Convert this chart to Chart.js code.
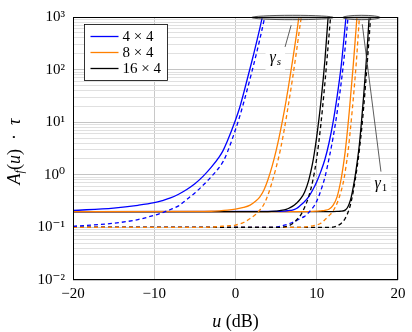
<!DOCTYPE html>
<html><head><meta charset="utf-8">
<script src="https://cdn.jsdelivr.net/npm/chart.js@4"></script>
<style>html,body{margin:0;padding:0;background:#fff}</style>
</head><body>
<canvas id="c" width="412" height="332"></canvas>
<script>
// ---------- data ----------
const seriesNames = ['4 × 4', '8 × 4', '16 × 4'];
const xTicks = [-20, -10, 0, 10, 20];
const yTickExps = [-2, -1, 0, 1, 2, 3];

// γs group (left)
const u44sSolid = [-20, -15, -12, -10, -9, -8, -7, -6, -5, -4, -3, -2, -1.5, -1, 0, 0.5, 1, 2, 3, 3.3];
const a44sSolid = [0.21, 0.233, 0.263, 0.295, 0.324, 0.363, 0.427, 0.525, 0.676, 0.933, 1.38, 2.19, 2.95, 4.37, 11.0, 18.6, 35.5, 141, 617, 1000];
const u44sDash = [-20, -15, -12, -10, -9, -8, -7, -6, -5, -4, -3, -2, -1.5, -1, 0, 0.5, 1, 2, 3, 3.6];
const a44sDash = [0.105, 0.12, 0.141, 0.17, 0.191, 0.219, 0.257, 0.339, 0.452, 0.631, 0.912, 1.38, 1.82, 2.69, 7.24, 12.6, 23.4, 89.1, 380, 1000];
const u84sSolid = [-20, -5, -3, -2, -1, 0, 1, 1.8, 2.5, 3, 3.5, 4, 4.5, 5, 5.5, 6, 6.5, 7, 7.5, 7.8];
const a84sSolid = [0.2, 0.201, 0.203, 0.207, 0.213, 0.223, 0.24, 0.266, 0.316, 0.38, 0.513, 0.813, 1.445, 2.88, 6.46, 16.2, 45.7, 140, 457, 1000];
const u84sDash = [-20, -5, -3, -2, -1, 0, 1, 1.8, 2.5, 3, 3.5, 4, 4.5, 5, 5.5, 6, 6.5, 7, 7.5, 8, 8.1];
const a84sDash = [0.1, 0.1, 0.101, 0.104, 0.107, 0.111, 0.124, 0.148, 0.178, 0.214, 0.275, 0.417, 0.724, 1.38, 2.88, 7.24, 20.9, 64.6, 219, 794, 1000];
const u164sSolid = [-20, 4, 5, 6, 6.5, 7, 7.5, 8, 8.5, 9, 9.5, 9.7, 10, 10.5, 11, 11.4];
const a164sSolid = [0.2, 0.2, 0.204, 0.215, 0.229, 0.251, 0.288, 0.347, 0.468, 0.776, 1.7, 2.57, 5.37, 23.4, 148, 1000];
const u164sDash = [-20, 5, 6, 6.5, 7, 7.5, 8, 8.5, 9, 9.5, 10, 10.5, 11, 11.4, 11.7];
const a164sDash = [0.1, 0.1, 0.102, 0.107, 0.117, 0.138, 0.17, 0.24, 0.38, 0.759, 2.09, 8.91, 55.0, 282, 1000];

// γ1 group (right)
const u441Solid = [-20, 5, 6, 6.5, 7, 7.5, 8, 8.5, 9, 9.5, 10, 10.5, 11, 11.5, 12, 12.5, 13, 13.6];
const a441Solid = [0.2, 0.201, 0.204, 0.209, 0.214, 0.229, 0.263, 0.309, 0.38, 0.513, 0.741, 1.15, 1.95, 3.98, 9.77, 30.2, 115, 1000];
const u441Dash = [-20, 4, 5, 6, 7, 8, 8.5, 9, 9.5, 10, 10.5, 11, 11.5, 12, 12.5, 13, 13.5, 13.85];
const a441Dash = [0.1, 0.1, 0.101, 0.11, 0.124, 0.148, 0.162, 0.191, 0.234, 0.316, 0.501, 0.891, 2.0, 5.01, 15.1, 55.0, 263, 1000];
const u841Solid = [-20, 9, 10, 10.5, 11, 11.5, 12, 12.5, 13, 13.25, 13.5, 14, 14.5, 14.85, 14.95];
const a841Solid = [0.2, 0.2, 0.203, 0.207, 0.211, 0.221, 0.263, 0.38, 0.832, 1.45, 2.75, 15.8, 126, 631, 1000];
const u841Dash = [-20, 8, 9, 10, 10.5, 11, 11.5, 12, 12.5, 13, 13.35, 13.6, 13.85, 14.35, 14.85, 15.25];
const a841Dash = [0.1, 0.1, 0.104, 0.112, 0.12, 0.14, 0.166, 0.204, 0.288, 0.49, 0.832, 1.45, 2.75, 15.8, 126, 1000];
const u1641Solid = [-20, 12, 12.5, 13, 13.5, 13.75, 14, 14.25, 14.5, 14.75, 15, 15.25, 15.5, 15.75, 16, 16.25, 16.45];
const a1641Solid = [0.2, 0.2, 0.201, 0.203, 0.213, 0.234, 0.282, 0.38, 0.589, 1.0, 1.86, 3.8, 10.0, 28.8, 91.2, 316, 1000];
const u1641Dash = [-20, 11, 12, 12.5, 13, 13.5, 14, 14.25, 14.5, 14.75, 15, 15.25, 15.5, 15.75, 16, 16.25, 16.5, 16.65];
const a1641Dash = [0.1, 0.1, 0.101, 0.107, 0.119, 0.148, 0.224, 0.316, 0.49, 0.832, 1.51, 3.02, 6.76, 17.4, 50.1, 158, 525, 1096];

// annotations (data coordinates)
const ellipseSpans = [[2.0, 12.05], [13.2, 17.8]];
const gammaS = {label: 'γ', sub: 's', u: 4.9, a: 160, from: [6.85, 700], to: [6.1, 270]};
const gamma1 = {label: 'γ', sub: '1', u: 17.9, a: 0.65, from: [15.6, 730], to: [17.9, 1.15]};

// ---------- styles ----------
const COLORS = ['#0000ff', '#ff8000', '#000000'];
const SERIF = "'Liberation Serif', 'DejaVu Serif', serif";
const SUP = {'-': '⁻', '0': '⁰', '1': '¹', '2': '²', '3': '³'};

const curves = [
  [u44sSolid, a44sSolid, 0, false], [u44sDash, a44sDash, 0, true],
  [u84sSolid, a84sSolid, 1, false], [u84sDash, a84sDash, 1, true],
  [u164sSolid, a164sSolid, 2, false], [u164sDash, a164sDash, 2, true],
  [u441Solid, a441Solid, 0, false], [u441Dash, a441Dash, 0, true],
  [u841Solid, a841Solid, 1, false], [u841Dash, a841Dash, 1, true],
  [u1641Solid, a1641Solid, 2, false], [u1641Dash, a1641Dash, 2, true],
];

const datasets = curves.map(([u, a, ci, dash]) => ({
  data: u.map((x, i) => ({x, y: a[i]})),
  borderColor: COLORS[ci], borderWidth: 1.3,
  borderDash: dash ? [4, 3] : [],
  pointRadius: 0, fill: false, cubicInterpolationMode: 'monotone'
}));

const isDecade = v => Math.abs(Math.log10(v) - Math.round(Math.log10(v))) < 1e-6;

const deco = {
  id: 'deco',
  afterDatasetsDraw(chart) {
    const {ctx, scales: {x, y}, chartArea: ca} = chart;
    ctx.save();
    for (const [u0, u1] of ellipseSpans) {
      const x0 = x.getPixelForValue(u0), x1 = x.getPixelForValue(u1), yc = y.getPixelForValue(1000) + 0.5;
      ctx.beginPath();
      ctx.ellipse((x0 + x1) / 2, yc, (x1 - x0) / 2, 2.2, 0, 0, Math.PI * 2);
      ctx.fillStyle = 'rgba(150,150,150,0.55)'; ctx.fill();
      ctx.strokeStyle = '#333'; ctx.lineWidth = 0.8; ctx.stroke();
    }
    for (const g of [gammaS, gamma1]) {
      ctx.beginPath();
      ctx.moveTo(x.getPixelForValue(g.from[0]), y.getPixelForValue(g.from[1]));
      ctx.lineTo(x.getPixelForValue(g.to[0]), y.getPixelForValue(g.to[1]));
      ctx.strokeStyle = '#333'; ctx.lineWidth = 0.8; ctx.stroke();
      const cx = x.getPixelForValue(g.u), cy = y.getPixelForValue(g.a);
      ctx.font = 'italic 16px ' + SERIF;
      const w1 = ctx.measureText(g.label).width;
      ctx.font = '11px ' + SERIF;
      const w2 = ctx.measureText(g.sub).width;
      const w = w1 + w2 + 1;
      ctx.fillStyle = '#fff';
      ctx.fillRect(cx - w / 2 - 4, cy - 9, w + 8, 20);
      ctx.fillStyle = '#000';
      ctx.textBaseline = 'alphabetic'; ctx.textAlign = 'left';
      ctx.font = 'italic 16px ' + SERIF;
      ctx.fillText(g.label, cx - w / 2, cy + 3);
      ctx.font = (g.sub === 's' ? 'italic ' : '') + '11px ' + SERIF;
      ctx.fillText(g.sub, cx - w / 2 + w1 + 1, cy + 6);
    }
    const lx = ca.left + 11.5, ly = ca.top + 7.5, lw = 83, lh = 56;
    ctx.fillStyle = '#fff'; ctx.fillRect(lx, ly, lw, lh);
    ctx.strokeStyle = '#000'; ctx.lineWidth = 0.8; ctx.strokeRect(lx, ly, lw, lh);
    ctx.font = '15px ' + SERIF; ctx.textBaseline = 'middle'; ctx.textAlign = 'left';
    seriesNames.forEach((n, i) => {
      const yy = ly + 12 + i * 16;
      ctx.beginPath(); ctx.moveTo(lx + 6, yy); ctx.lineTo(lx + 34, yy);
      ctx.strokeStyle = COLORS[i]; ctx.lineWidth = 1.3; ctx.stroke();
      ctx.fillStyle = '#000'; ctx.fillText(n, lx + 38, yy + 1);
    });
    ctx.restore();
  },
  afterDraw(chart) {
    const {ctx, chartArea: ca} = chart;
    ctx.save();
    ctx.strokeStyle = '#000'; ctx.lineWidth = 1;
    ctx.strokeRect(Math.round(ca.left) + 0.5, Math.round(ca.top) + 0.5,
      Math.round(ca.right - ca.left) - 1, Math.round(ca.bottom - ca.top) - 1);
    ctx.fillStyle = '#000'; ctx.textBaseline = 'alphabetic'; ctx.textAlign = 'left';
    const parts = [['u', 'italic 18px '], [' (dB)', '18px ']];
    let tw = 0;
    for (const [t, f] of parts) { ctx.font = f + SERIF; tw += ctx.measureText(t).width; }
    let xx = (ca.left + ca.right) / 2 - tw / 2;
    for (const [t, f] of parts) { ctx.font = f + SERIF; ctx.fillText(t, xx, 327); xx += ctx.measureText(t).width; }
    ctx.translate(20, (ca.top + ca.bottom) / 2 + 3);
    ctx.rotate(-Math.PI / 2);
    const yp = [['A', 'italic 18px ', 0], ['f', 'italic 12px ', 3], ['(', '18px ', 0], ['u', 'italic 18px ', 0],
                [')', '18px ', 0], ['  ·  ', '18px ', 0], ['τ', 'italic 18px ', 0]];
    let yw = 0;
    for (const [t, f] of yp) { ctx.font = f + SERIF; yw += ctx.measureText(t).width; }
    let p = -yw / 2;
    for (const [t, f, dy] of yp) { ctx.font = f + SERIF; ctx.fillText(t, p, dy); p += ctx.measureText(t).width; }
    ctx.restore();
  }
};

new Chart(document.getElementById('c'), {
  type: 'line',
  data: {datasets},
  options: {
    responsive: false, animation: false, devicePixelRatio: 1,
    layout: {padding: {top: 13, right: 14, left: 0, bottom: 0}},
    plugins: {legend: {display: false}, tooltip: {enabled: false}},
    scales: {
      x: {
        type: 'linear', min: -20, max: 20,
        afterBuildTicks: s => { s.ticks = xTicks.map(v => ({value: v})); },
        afterFit: s => { s.height = 52; },
        border: {display: false},
        grid: {color: '#c8c8c8', lineWidth: 1, drawTicks: false},
        ticks: {padding: 5, color: '#000', font: {family: SERIF, size: 15},
          callback: v => (v < 0 ? '−' + Math.abs(v) : String(v))}
      },
      y: {
        type: 'logarithmic', min: 0.01, max: 1000,
        afterBuildTicks: s => {
          const t = [];
          for (let i = 0; i < yTickExps.length - 1; i++)
            for (let k = 1; k <= 9; k++) t.push({value: k * Math.pow(10, yTickExps[i])});
          t.push({value: Math.pow(10, yTickExps[yTickExps.length - 1])});
          s.ticks = t;
        },
        afterFit: s => { s.width = 73; },
        border: {display: false},
        grid: {drawTicks: false, lineWidth: 1,
          color: c => (c.tick && isDecade(c.tick.value) ? '#c4c4c4' : '#e0e0e0')},
        ticks: {autoSkip: false, padding: 8, color: '#000', font: {family: SERIF, size: 15},
          callback: v => {
            if (!isDecade(v)) return '';
            const e = Math.round(Math.log10(v));
            return '10' + String(e).split('').map(ch => SUP[ch]).join('');
          }}
      }
    }
  },
  plugins: [deco]
});
</script>
</body></html>
